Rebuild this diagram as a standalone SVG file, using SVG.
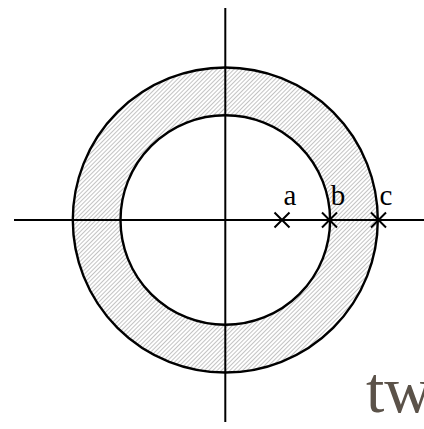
<svg xmlns="http://www.w3.org/2000/svg" width="424" height="429" viewBox="0 0 424 429">
<defs>
<pattern id="hatch" patternUnits="userSpaceOnUse" width="3" height="10" patternTransform="rotate(45)">
<line x1="1.5" y1="0" x2="1.5" y2="10" stroke="#9a9a9a" stroke-width="0.6"/>
</pattern>
</defs>
<style>
.ring{fill:none;stroke:#000;stroke-width:2.4}
.axis{stroke:#000;stroke-width:2}
.mark{stroke:#000;stroke-width:2}
.lbl{font-family:"Liberation Serif","Times New Roman",serif;font-size:29px;fill:#000;text-anchor:middle}
.title{font-family:"Liberation Serif","Times New Roman",serif;font-size:66px;fill:#5b5249}
</style>
<g id="annulus">
<path d="M 72.8 220 A 152.5 152.5 0 1 0 377.8 220 A 152.5 152.5 0 1 0 72.8 220 Z M 120.5 220 A 104.8 104.8 0 1 1 330.1 220 A 104.8 104.8 0 1 1 120.5 220 Z" fill="url(#hatch)" fill-rule="evenodd"/>
<circle class="ring" cx="225.3" cy="220" r="152.5"/>
<circle class="ring" cx="225.3" cy="220" r="104.8"/>
</g>
<g id="axes">
<line class="axis" x1="14" y1="220" x2="424" y2="220"/>
<line class="axis" x1="225.3" y1="8" x2="225.3" y2="422"/>
</g>
<g id="point-a">
<path class="mark" d="M 274.5 212.5 L 289.5 227.5 M 274.5 227.5 L 289.5 212.5"/>
<text class="lbl" x="290" y="205">a</text>
</g>
<g id="point-b">
<path class="mark" d="M 322 212.5 L 337 227.5 M 322 227.5 L 337 212.5"/>
<text class="lbl" x="338" y="205">b</text>
</g>
<g id="point-c">
<path class="mark" d="M 371 212.5 L 386 227.5 M 371 227.5 L 386 212.5"/>
<text class="lbl" x="386" y="205">c</text>
</g>
<text class="title" x="366" y="412">tw</text>
</svg>
